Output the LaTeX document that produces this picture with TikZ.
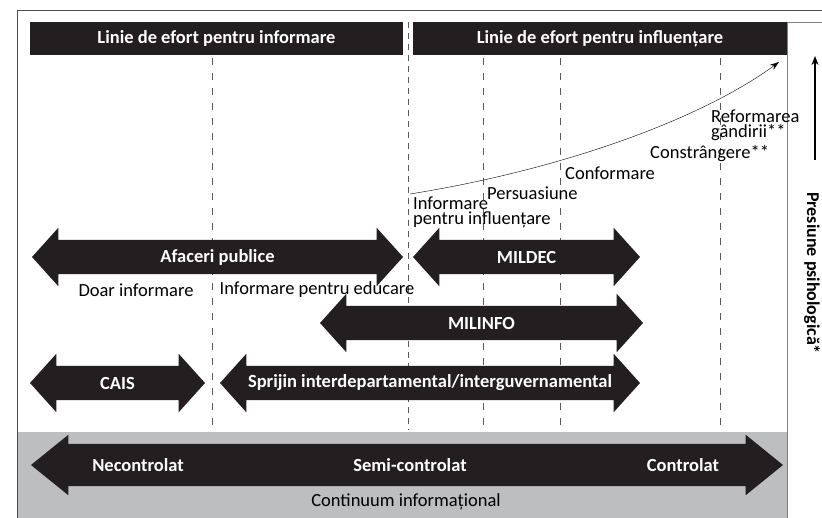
\documentclass[tikz,border=0pt]{standalone}
\usepackage{fontspec}
\setmainfont{Carlito}
\usetikzlibrary{shapes.arrows,arrows.meta}
\definecolor{barblack}{HTML}{231F20}
\definecolor{panelgrey}{HTML}{BCBEC0}

\begin{document}
\begin{tikzpicture}
  [x=1pt,y=-1pt,
   every node/.style={font=\fontsize{18.5}{15}\selectfont},
   bar/.style={fill=barblack,text=white,font=\fontsize{18.5}{15}\selectfont\bfseries,minimum height=33pt,inner sep=0pt},
   band/.style={double arrow,fill=barblack,text height=10pt,text depth=4pt,inner ysep=10pt,inner xsep=0pt,
     double arrow head extend=12pt,double arrow tip angle=96},
   bandtext/.style={text=white,font=\fontsize{18.5}{15}\selectfont\bfseries,inner sep=0pt},
   lbl/.style={anchor=west,inner sep=0pt,align=left},
   grid/.style={dash pattern=on 7pt off 8pt,gray!70!black,line width=0.8pt}]
  \useasboundingbox (0,0) rectangle (822,518);

  % frame and grey panel
  \fill[panelgrey] (17,432) rectangle (787,518);
  \draw[gray!60!black] (17,518) -- (17,10) -- (822,10);
  \draw[gray] (787,518) -- (787,22) -- (822,22);

  % dashed separators
  \foreach \x in {212,483,560,720}
    \draw[grid] (\x,58) -- (\x,430);
  \draw[grid,dash pattern=on 6pt off 5pt] (408,22) -- (408,430);

  % lines of effort
  \node [bar,minimum width=373pt] (lfi) at (216.5,38.5) {Linie de efort pentru informare};
  \node [bar,minimum width=374pt] (lfe) at (600,38.5) {Linie de efort pentru influențare};

  % pressure curve
  \coordinate (c0) at (410,194);
  \coordinate (c1) at (779,62);
  \draw[-{Stealth[length=9pt,width=6pt]}] (c0) .. controls (560,170) and (700,120) .. (c1);

  \node [lbl] (inf) at (413,212) {Informare\\pentru influențare};
  \node [lbl] (per) at (487,193) {Persuasiune};
  \node [lbl] (con) at (565,173) {Conformare};
  \node [lbl] (cst) at (650,154) {Constrângere**};
  \node [lbl] (ref) at (711,125) {Reformarea\\gândirii**};

  % psychological pressure
  \coordinate (p0) at (815,160);
  \coordinate (p1) at (815,56);
  \draw[line width=1.2pt,-{Stealth[length=9pt,width=7pt]}] (p0) -- (p1);
  \node [rotate=-90,inner sep=0pt,font=\fontsize{18}{15}\selectfont\bfseries] (pres) at (812,273) {Presiune psihologică*};

  % activities
  \node [band,minimum height=371pt,label={[bandtext]center:Afaceri publice}] (ap) at (217.5,257) {};
  \node [band,minimum height=227pt,label={[bandtext]center:MILDEC}] (md) at (526.5,257) {};
  \node [band,minimum height=323pt,label={[bandtext]center:MILINFO}] (mi) at (481.5,323) {};
  \node [band,minimum height=175pt,label={[bandtext]center:CAIS}] (ca) at (117.5,383) {};
  \node [band,minimum height=420pt,label={[bandtext]center:Sprijin interdepartamental/interguvernamental}] (sp) at (430,383) {};

  \node (doar) at (136,290) {Doar informare};
  \node (edu) at (317,290) {Informare pentru educare};

  % information continuum
  \node [band,minimum height=752pt,inner ysep=14pt,double arrow head extend=9pt,double arrow tip angle=78] (ci) at (407,465) {};
  \node [bandtext] (nc) at (138,465) {Necontrolat};
  \node [bandtext] (sc) at (410,465) {Semi-controlat};
  \node [bandtext] (ct) at (683,465) {Controlat};
  \node (cont) at (406,502) {Continuum informațional};

\end{tikzpicture}
\end{document}
